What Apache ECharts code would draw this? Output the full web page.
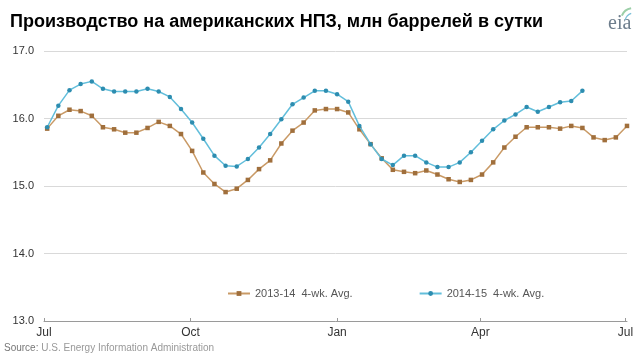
<!DOCTYPE html>
<html>
<head>
<meta charset="utf-8">
<script src="https://cdn.jsdelivr.net/npm/echarts@6/dist/echarts.min.js"></script>
<style>
html,body{margin:0;padding:0;background:#fff;}
#chart{width:640px;height:361px;}
</style>
</head>
<body>
<div id="chart"></div>
<script>
// Title / texts
var titleText = 'Производство на американских НПЗ, млн баррелей в сутки';
var sourceText = 'U.S. Energy Information Administration';
var seriesNames = ['2013-14  4-wk. Avg.', '2014-15  4-wk. Avg.'];

// X axis: days since July 1; month tick positions and labels
var monthTickDays = [0, 92, 184, 274, 365];
var monthTickLabels = ['Jul', 'Oct', 'Jan', 'Apr', 'Jul'];

// Weekly observation days (days since July 1)
var weekDays = [2, 9, 16, 23, 30, 37, 44, 51, 58, 65, 72, 79, 86, 93, 100, 107, 114, 121, 128, 135,
  142, 149, 156, 163, 170, 177, 184, 191, 198, 205, 212, 219, 226, 233, 240, 247, 254, 261, 268, 275,
  282, 289, 296, 303, 310, 317, 324, 331, 338, 345, 352, 359, 366];

// Y axis ticks
var yTicks = [13, 14, 15, 16, 17];

// Series values (million barrels per day)
var values2013 = [15.85, 16.04, 16.13, 16.11, 16.04, 15.87, 15.84, 15.79, 15.79, 15.86,
  15.95, 15.89, 15.77, 15.52, 15.20, 15.03, 14.91, 14.96, 15.09, 15.25,
  15.38, 15.63, 15.82, 15.94, 16.12, 16.14, 16.14, 16.09, 15.84, 15.62,
  15.41, 15.24, 15.21, 15.19, 15.23, 15.17, 15.10, 15.06, 15.09, 15.17,
  15.35, 15.57, 15.73, 15.87, 15.87, 15.87, 15.85, 15.89, 15.86, 15.72,
  15.68, 15.72, 15.89];
var values2014 = [15.87, 16.19, 16.42, 16.51, 16.55, 16.44, 16.40, 16.40, 16.40, 16.44,
  16.40, 16.32, 16.14, 15.94, 15.70, 15.45, 15.30, 15.29, 15.40, 15.57,
  15.77, 15.99, 16.21, 16.31, 16.41, 16.41, 16.36, 16.25, 15.89, 15.62,
  15.40, 15.31, 15.45, 15.45, 15.35, 15.28, 15.28, 15.35, 15.50, 15.67,
  15.84, 15.97, 16.06, 16.17, 16.10, 16.17, 16.24, 16.26, 16.41];

function pairs(vals) {
  return vals.map(function (v, i) { return [weekDays[i], v]; });
}

var chart = echarts.init(document.getElementById('chart'), null, {renderer: 'canvas'});
var option = {
  animation: false,
  backgroundColor: '#ffffff',
  title: {
    text: titleText,
    left: 5, top: 8,
    textStyle: {fontFamily: 'Liberation Sans, Arial, sans-serif', fontWeight: 'bold', fontSize: 18, color: '#000'}
  },
  grid: {left: 44, right: 13, top: 51, bottom: 40, containLabel: false},
  legend: {
    left: 222, top: 283,
    itemWidth: 22, itemHeight: 6, itemGap: 66,
    textStyle: {fontFamily: 'Liberation Sans Narrow, Arial Narrow, Liberation Sans, sans-serif', fontSize: 11, color: '#555'},
    data: seriesNames
  },
  xAxis: {
    type: 'value', min: 0, max: 366,
    splitLine: {show: false},
    axisLine: {show: true, lineStyle: {color: '#9a9a9a', width: 1}},
    axisTick: {show: true, inside: true, length: 3, customValues: monthTickDays, lineStyle: {color: '#9a9a9a'}},
    axisLabel: {
      customValues: monthTickDays,
      formatter: function (v) { var k = monthTickDays.indexOf(v); return k >= 0 ? monthTickLabels[k] : ''; },
      fontFamily: 'Liberation Sans, Arial, sans-serif', fontSize: 12, color: '#333', margin: 6
    }
  },
  yAxis: {
    type: 'value', min: 13, max: 17, interval: 1,
    axisLine: {show: false}, axisTick: {show: false},
    splitLine: {lineStyle: {color: '#d9d9d9', width: 1}},
    axisLabel: {
      formatter: function (v) { return v.toFixed(1); },
      fontFamily: 'Liberation Sans, Arial, sans-serif', fontSize: 11, color: '#333', margin: 10
    }
  },
  series: [
    {
      name: seriesNames[0], type: 'line', data: pairs(values2013),
      symbol: 'rect', symbolSize: 4.5, showAllSymbol: true,
      lineStyle: {color: '#c99a66', width: 1.5},
      itemStyle: {color: '#a06f3c'},
      z: 2
    },
    {
      name: seriesNames[1], type: 'line', data: pairs(values2014),
      symbol: 'circle', symbolSize: 4.5, showAllSymbol: true,
      lineStyle: {color: '#62bedb', width: 1.5},
      itemStyle: {color: '#2d8db0'},
      z: 3
    }
  ],
  graphic: [
    {
      type: 'text', left: 4, top: 343,
      style: {
        text: '{a|Source:}{b| ' + sourceText + '}',
        rich: {
          a: {fontFamily: 'Liberation Sans Narrow, Liberation Sans, sans-serif', fontSize: 10, fill: '#777'},
          b: {fontFamily: 'Liberation Sans Narrow, Liberation Sans, sans-serif', fontSize: 10, fill: '#999'}
        }
      }
    },
    {
      type: 'text', left: 608, top: 14,
      style: {text: 'eia', fontFamily: 'Liberation Serif, DejaVu Serif, serif', fontSize: 20, fill: '#6d7d8c'}
    },
    {
      type: 'arc', shape: {cx: 633, cy: 20, r: 12, startAngle: Math.PI * 1.12, endAngle: Math.PI * 1.45},
      style: {stroke: '#9ccfa8', lineWidth: 2, fill: null}
    },
    {
      type: 'arc', shape: {cx: 634, cy: 22, r: 9, startAngle: Math.PI * 1.08, endAngle: Math.PI * 1.4},
      style: {stroke: '#7cc0d8', lineWidth: 1.2, fill: null}
    }
  ]
};
chart.setOption(option);
</script>
</body>
</html>
